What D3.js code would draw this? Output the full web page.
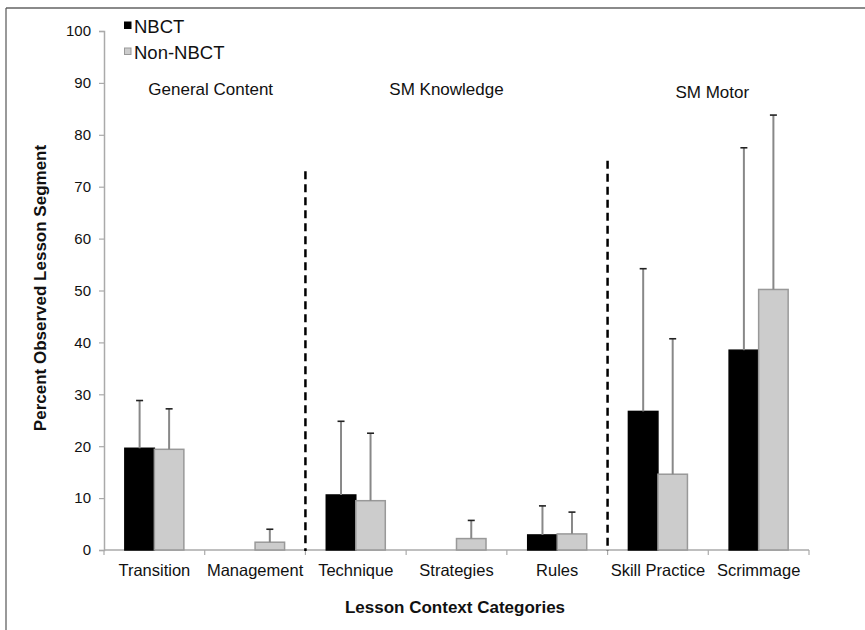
<!DOCTYPE html>
<html>
<head>
<meta charset="utf-8">
<script src="https://cdn.jsdelivr.net/npm/d3@7/dist/d3.min.js"></script>
<style>
  html, body { margin: 0; padding: 0; background: #fff; }
  svg { display: block; font-family: "Liberation Sans", Arial, Helvetica, sans-serif; }
</style>
</head>
<body>
<svg id="chart" width="865" height="630"></svg>
<script>
// Lesson context categories and group membership
const categories = ["Transition", "Management", "Technique", "Strategies", "Rules", "Skill Practice", "Scrimmage"];
const groups = ["General Content", "SM Knowledge", "SM Motor"];
const groupOf = [0, 0, 1, 1, 1, 2, 2];

// Mean percent of observed lesson segment, with standard deviations
const nbct = [19.6, 0, 10.6, 0, 2.9, 26.7, 38.5];
const nbctSD = [9.2, 0, 14.2, 0, 5.6, 27.5, 39.0];
const nonNbct = [19.4, 1.5, 9.5, 2.2, 3.1, 14.6, 50.2];
const nonNbctSD = [7.8, 2.5, 13.0, 3.5, 4.2, 26.1, 33.6];

const seriesNames = ["NBCT", "Non-NBCT"];
const yTicks = [0, 10, 20, 30, 40, 50, 60, 70, 80, 90, 100];

(function draw() {
  const svg = d3.select("#chart");
  const plotLeft = 104, plotRight = 809, plotTop = 31, plotBottom = 550;

  // Frame lines along the top and left
  svg.append("line").attr("x1", 6).attr("x2", 865).attr("y1", 8).attr("y2", 8)
    .attr("stroke", "#8a8a8a").attr("stroke-width", 2);
  svg.append("line").attr("x1", 6).attr("x2", 6).attr("y1", 8).attr("y2", 630)
    .attr("stroke", "#555").attr("stroke-width", 1.2);

  const x = d3.scaleBand().domain(categories).range([plotLeft, plotRight]).paddingInner(0).paddingOuter(0);
  const y = d3.scaleLinear().domain([0, 100]).range([plotBottom, plotTop]);
  const barW = x.bandwidth() * 0.293;

  // Y axis
  const yAxis = svg.append("g").attr("transform", `translate(${plotLeft},0)`)
    .call(d3.axisLeft(y).tickValues(yTicks).tickSize(5).tickPadding(8));
  yAxis.select(".domain").attr("stroke", "#aaa").attr("stroke-width", 1.5);
  yAxis.selectAll(".tick line").attr("stroke", "#aaa").attr("stroke-width", 1.2);
  yAxis.selectAll(".tick text").attr("font-size", "15px").attr("fill", "#111")
    .attr("font-family", "Liberation Sans, Arial, sans-serif");

  // X axis with ticks at the category boundaries
  const xAxisG = svg.append("g");
  xAxisG.append("line").attr("x1", plotLeft).attr("x2", plotRight).attr("y1", plotBottom).attr("y2", plotBottom)
    .attr("stroke", "#aaa").attr("stroke-width", 1.5);
  const boundaries = categories.map(c => x(c)).concat([plotRight]);
  xAxisG.selectAll("line.tk").data(boundaries).join("line").attr("class", "tk")
    .attr("x1", d => d).attr("x2", d => d).attr("y1", plotBottom).attr("y2", plotBottom + 5)
    .attr("stroke", "#aaa").attr("stroke-width", 1.2);
  xAxisG.selectAll("text").data(categories).join("text")
    .attr("x", d => x(d) + x.bandwidth() / 2).attr("y", 576)
    .attr("text-anchor", "middle").attr("font-size", "16.5px").attr("fill", "#111")
    .text(d => d);

  // Dashed dividers between the category groups
  const dividers = [{ cat: "Technique", y0: 73 }, { cat: "Skill Practice", y0: 75 }];
  svg.selectAll("line.divider").data(dividers).join("line").attr("class", "divider")
    .attr("x1", d => x(d.cat)).attr("x2", d => x(d.cat))
    .attr("y1", d => y(d.y0)).attr("y2", plotBottom + 1)
    .attr("stroke", "#000").attr("stroke-width", 2.5).attr("stroke-dasharray", "8,5");

  // Bars
  const rows = categories.map((c, i) => ({ c, vals: [nbct[i], nonNbct[i]], sds: [nbctSD[i], nonNbctSD[i]] }));
  const fills = ["#000", "#cccccc"];
  const strokes = ["#000", "#999"];
  const barData = [];
  rows.forEach(r => r.vals.forEach((v, s) => barData.push({ c: r.c, v, sd: r.sds[s], s })));
  const xc = d => x(d.c) + x.bandwidth() / 2 + (d.s === 0 ? -barW : 0);

  svg.selectAll("rect.bar").data(barData.filter(d => d.v > 0)).join("rect").attr("class", "bar")
    .attr("x", xc).attr("width", barW)
    .attr("y", d => y(d.v)).attr("height", d => y(0) - y(d.v))
    .attr("fill", d => fills[d.s]).attr("stroke", d => strokes[d.s]).attr("stroke-width", 1.5);

  // Upper error bars (mean + SD)
  const errData = barData.filter(d => d.sd > 0);
  svg.selectAll("line.err").data(errData).join("line").attr("class", "err")
    .attr("x1", d => xc(d) + barW / 2).attr("x2", d => xc(d) + barW / 2)
    .attr("y1", d => y(d.v)).attr("y2", d => y(d.v + d.sd))
    .attr("stroke", "#888").attr("stroke-width", 2);
  svg.selectAll("line.cap").data(errData).join("line").attr("class", "cap")
    .attr("x1", d => xc(d) + barW / 2 - 3.5).attr("x2", d => xc(d) + barW / 2 + 3.5)
    .attr("y1", d => y(d.v + d.sd)).attr("y2", d => y(d.v + d.sd))
    .attr("stroke", "#222").attr("stroke-width", 1.6);

  // Group headings
  const groupDx = [6, -10, 4];
  const groupY = [95, 95, 98];
  svg.selectAll("text.group").data(groups).join("text").attr("class", "group")
    .attr("x", (g, gi) => {
      const cs = categories.filter((c, i) => groupOf[i] === gi);
      return (x(cs[0]) + x(cs[cs.length - 1]) + x.bandwidth()) / 2 + groupDx[gi];
    })
    .attr("y", (g, gi) => groupY[gi])
    .attr("text-anchor", "middle").attr("font-size", "17px").attr("fill", "#111")
    .text(d => d);

  // Legend
  const legend = svg.append("g");
  seriesNames.forEach((n, i) => {
    legend.append("rect").attr("x", 124.5).attr("y", 22 + i * 26).attr("width", 6.5).attr("height", 6.5)
      .attr("fill", fills[i]).attr("stroke", strokes[i]).attr("stroke-width", 1);
    legend.append("text").attr("x", 134).attr("y", 33 + i * 25.5)
      .attr("font-size", "18.5px").attr("fill", "#111").text(n);
  });

  // Axis titles
  svg.append("text").attr("x", 455).attr("y", 613).attr("text-anchor", "middle")
    .attr("font-size", "17px").attr("font-weight", "bold").attr("fill", "#111")
    .text("Lesson Context Categories");
  svg.append("text").attr("transform", "translate(46,288) rotate(-90)").attr("text-anchor", "middle")
    .attr("font-size", "17px").attr("font-weight", "bold").attr("fill", "#111")
    .text("Percent Observed Lesson Segment");
})();
</script>
</body>
</html>
